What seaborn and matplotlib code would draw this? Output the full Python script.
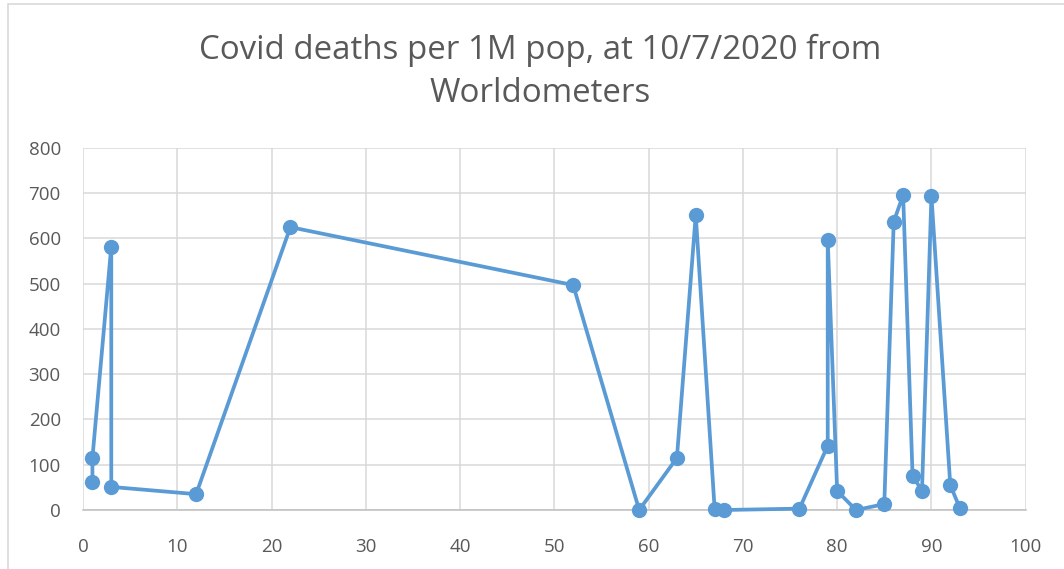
import numpy as np
import pandas as pd
import seaborn as sns
import matplotlib.pyplot as plt
from matplotlib.patches import Rectangle

# === Data (in drawing order)
x_vals = [1, 1, 3, 3, 12, 22, 52, 59, 63, 65, 67, 68, 76, 79, 79, 80, 82, 85, 86, 87, 88, 89, 90, 92, 93]
deaths = [62, 115, 582, 51, 35, 625, 497, 0, 115, 652, 3, 0, 3, 142, 597, 42, 0, 13, 637, 696, 75, 43, 694, 55, 5]
x_ticks = [0, 10, 20, 30, 40, 50, 60, 70, 80, 90, 100]
y_ticks = [0, 100, 200, 300, 400, 500, 600, 700, 800]
title = "Covid deaths per 1M pop, at 10/7/2020 from\nWorldometers"

df = pd.DataFrame({"x": x_vals, "deaths": deaths})

sns.set_style("whitegrid")
plt.rcParams["font.family"] = ["Open Sans", "DejaVu Sans"]

fig = plt.figure(figsize=(10.64, 5.69), dpi=100)
ax = fig.add_axes([0.078, 0.1037, 0.886, 0.6363])

sns.lineplot(data=df, x="x", y="deaths", sort=False, estimator=None, ax=ax,
             color="#5B9BD5", linewidth=2.7, marker="o", markersize=11,
             markeredgewidth=0, zorder=3, clip_on=False)

ax.set_xlim(0, 100)
ax.set_ylim(0, 800)
ax.set_xticks(x_ticks)
ax.set_yticks(y_ticks)
ax.grid(True, color="#D9D9D9", linewidth=1.1)
for s in ["top", "right", "left"]:
    ax.spines[s].set_visible(False)
ax.spines["bottom"].set_color("#BFBFBF")
ax.spines["bottom"].set_linewidth(1.1)
ax.tick_params(axis="both", length=0, labelsize=13.5, labelcolor="#595959")
ax.tick_params(axis="x", pad=20)
ax.tick_params(axis="y", pad=16)
ax.set_xlabel("")
ax.set_ylabel("")

fig.text(0.5075, 0.874, title, ha="center", va="center", fontsize=23.8,
         color="#595959", linespacing=1.4)

# chart border
fig.patches.append(Rectangle((8 / 1064, -0.05), 1.2, 1.05 - 4 / 569,
                             transform=fig.transFigure, fill=False,
                             edgecolor="#D9D9D9", linewidth=1.2))

plt.savefig("out.png", dpi=100)
